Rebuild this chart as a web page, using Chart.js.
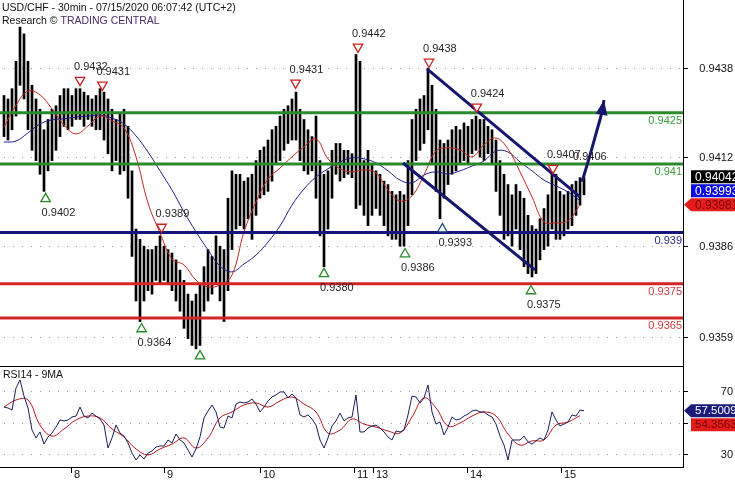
<!DOCTYPE html>
<html>
<head>
<meta charset="utf-8">
<script src="https://cdn.jsdelivr.net/npm/chart.js@4.4.0/dist/chart.umd.min.js"></script>
<style>
  html, body { margin: 0; padding: 0; background: #fff; }
  #wrap { position: relative; width: 735px; height: 480px; overflow: hidden; background: #fff; }
  #main { position: absolute; left: 0; top: 0; }
  #rsi { position: absolute; left: 0; top: 367px; }
</style>
</head>
<body>
<div id="wrap">
  <canvas id="main" width="735" height="367"></canvas>
  <canvas id="rsi" width="735" height="113"></canvas>
</div>
<script>
// USD/CHF 30min chart with RSI panel
// x axis unit = one bar slot
const barSlots = Array.from({ length: 146 }, (_, k) => k + 1);
const maSlots = Array.from({ length: 49 }, (_, k) => 1 + k * 3);

const barHigh = [
  0.9430, 0.9429, 0.9432, 0.9440, 0.9450, 0.9448, 0.9440, 0.9433, 0.9429, 0.9426,
  0.9420, 0.9423, 0.9426, 0.9427, 0.9430, 0.9432, 0.9432, 0.9430, 0.9432, 0.9432,
  0.9431, 0.9430, 0.9429, 0.9430, 0.9432, 0.9431, 0.9429, 0.9426, 0.9423, 0.9425,
  0.9426, 0.9421, 0.9408, 0.9391, 0.9388, 0.9386, 0.9385, 0.9385, 0.9386, 0.9389,
  0.9386, 0.9385, 0.9384, 0.9382, 0.9379, 0.9376, 0.9372, 0.9370, 0.9372, 0.9375,
  0.9380, 0.9385, 0.9383, 0.9389, 0.9386, 0.9385, 0.9400, 0.9408, 0.9407, 0.9407,
  0.9405, 0.9406, 0.9407, 0.9411, 0.9414, 0.9415, 0.9417, 0.9420, 0.9421, 0.9424,
  0.9426, 0.9427, 0.9429, 0.9431, 0.9426, 0.9423, 0.9420, 0.9418, 0.9424, 0.9411,
  0.9407, 0.9408, 0.9414, 0.9416, 0.9416, 0.9414, 0.9414, 0.9413, 0.9442, 0.9440,
  0.9411, 0.9414, 0.9410, 0.9408, 0.9407, 0.9405, 0.9404, 0.9402, 0.9401, 0.9402,
  0.9401, 0.9411, 0.9423, 0.9426, 0.9429, 0.9430, 0.9438, 0.9433, 0.9426, 0.9417,
  0.9416, 0.9417, 0.9420, 0.9421, 0.9420, 0.9422, 0.9421, 0.9423, 0.9424, 0.9423,
  0.9423, 0.9421, 0.9420, 0.9417, 0.9411, 0.9407, 0.9404, 0.9401, 0.9404, 0.9402,
  0.9400, 0.9395, 0.9392, 0.9391, 0.9394, 0.9397, 0.9401, 0.9407, 0.9407, 0.9402,
  0.9401, 0.9402, 0.9404, 0.9405, 0.9406, 0.9406
];
const barLow = [
  0.9418, 0.9417, 0.9420, 0.9424, 0.9433, 0.9429, 0.9420, 0.9414, 0.9411, 0.9407,
  0.9402, 0.9408, 0.9411, 0.9414, 0.9418, 0.9421, 0.9420, 0.9421, 0.9423, 0.9423,
  0.9421, 0.9423, 0.9421, 0.9420, 0.9420, 0.9417, 0.9413, 0.9408, 0.9411, 0.9407,
  0.9408, 0.9400, 0.9383, 0.9370, 0.9364, 0.9370, 0.9373, 0.9372, 0.9376, 0.9375,
  0.9376, 0.9375, 0.9373, 0.9370, 0.9367, 0.9362, 0.9359, 0.9357, 0.9356, 0.9357,
  0.9367, 0.9370, 0.9372, 0.9375, 0.9370, 0.9364, 0.9373, 0.9385, 0.9391, 0.9392,
  0.9391, 0.9394, 0.9388, 0.9395, 0.9400, 0.9401, 0.9402, 0.9405, 0.9410, 0.9411,
  0.9414, 0.9416, 0.9417, 0.9417, 0.9411, 0.9408, 0.9407, 0.9408, 0.9400, 0.9389,
  0.9380, 0.9391, 0.9400, 0.9407, 0.9405, 0.9406, 0.9407, 0.9406, 0.9397, 0.9398,
  0.9395, 0.9392, 0.9395, 0.9397, 0.9395, 0.9392, 0.9389, 0.9388, 0.9388, 0.9386,
  0.9386, 0.9392, 0.9401, 0.9411, 0.9414, 0.9416, 0.9420, 0.9410, 0.9402, 0.9394,
  0.9400, 0.9404, 0.9407, 0.9408, 0.9410, 0.9411, 0.9410, 0.9413, 0.9414, 0.9412,
  0.9411, 0.9413, 0.9410, 0.9402, 0.9395, 0.9388, 0.9389, 0.9386, 0.9391, 0.9385,
  0.9380, 0.9378, 0.9377, 0.9378, 0.9382, 0.9385, 0.9386, 0.9391, 0.9388, 0.9388,
  0.9389, 0.9391, 0.9392, 0.9395, 0.9398, 0.9401
];

const maRed = [
  0.94208, 0.94272, 0.94313, 0.94302, 0.94261, 0.94214, 0.94188, 0.94211, 0.94240, 0.94226,
  0.94205, 0.94121, 0.93986, 0.93899, 0.93823, 0.93805, 0.93761, 0.93741, 0.93747, 0.93776,
  0.93902, 0.93989, 0.94056, 0.94088, 0.94121, 0.94150, 0.94173, 0.94115, 0.94086, 0.94077,
  0.94083, 0.94074, 0.94024, 0.93992, 0.94007, 0.94068, 0.94138, 0.94147, 0.94141, 0.94121,
  0.94156, 0.94176, 0.94144, 0.94077, 0.94004, 0.93931, 0.93928, 0.93934, 0.93981
];
const maBlue = [
  0.94164, 0.94167, 0.94191, 0.94217, 0.94229, 0.94232, 0.94237, 0.94240, 0.94243, 0.94234,
  0.94217, 0.94182, 0.94135, 0.94080, 0.94024, 0.93960, 0.93902, 0.93849, 0.93802, 0.93785,
  0.93808, 0.93834, 0.93872, 0.93919, 0.93980, 0.94027, 0.94062, 0.94086, 0.94106, 0.94118,
  0.94115, 0.94103, 0.94080, 0.94053, 0.94045, 0.94068, 0.94077, 0.94071, 0.94080, 0.94094,
  0.94109, 0.94138, 0.94135, 0.94106, 0.94080, 0.94053, 0.94036, 0.94018, 0.93993
];

const rsiValues = [
  59.8, 59.2, 57.9, 71.9, 77.0, 66.8, 59.2, 45.2, 40.2, 44.0,
  36.3, 40.8, 43.3, 47.1, 51.6, 51.0, 51.6, 53.5, 54.1, 59.8,
  54.1, 52.9, 56.0, 54.1, 52.2, 48.4, 33.8, 40.2, 48.4, 43.3,
  41.4, 37.0, 30.6, 26.2, 29.4, 26.8, 30.6, 31.9, 34.4, 35.1,
  35.1, 38.9, 37.0, 42.7, 38.9, 37.0, 32.5, 28.1, 33.2, 40.8,
  52.9, 57.3, 61.1, 56.7, 47.1, 46.5, 54.1, 52.9, 61.7, 63.0,
  62.4, 63.0, 64.9, 61.7, 56.7, 59.8, 63.7, 66.2, 67.5, 69.4,
  69.4, 65.6, 68.1, 65.6, 54.8, 53.5, 54.8, 52.2, 48.4, 38.9,
  33.8, 40.2, 47.8, 51.0, 56.0, 51.0, 52.9, 53.5, 67.5, 44.0,
  44.0, 46.5, 47.8, 48.4, 46.5, 44.0, 40.8, 38.9, 44.6, 44.0,
  45.2, 54.8, 66.8, 66.2, 62.4, 65.6, 73.8, 56.7, 49.0, 50.3,
  42.1, 47.1, 53.5, 51.6, 52.2, 54.1, 55.4, 57.3, 57.9, 56.7,
  56.7, 54.8, 53.5, 49.0, 41.4, 35.7, 26.2, 38.9, 38.9, 38.9,
  41.4, 37.6, 36.3, 38.3, 40.2, 38.9, 45.2, 56.7, 51.6, 47.8,
  49.0, 50.3, 54.8, 54.1, 57.9, 57.5
];
const rsiMa = [
  59.8, 64.3, 64.3, 48.4, 41.4, 45.9, 51.6, 54.1, 52.9, 45.9,
  40.8, 33.2, 29.4, 33.2, 36.3, 40.2, 33.8, 40.2, 52.9, 56.7,
  61.1, 62.4, 59.8, 63.7, 66.2, 61.7, 56.7, 43.3, 45.2, 52.2,
  49.0, 47.1, 44.6, 43.3, 53.5, 65.6, 59.2, 47.8, 49.7, 54.1,
  56.7, 54.1, 42.7, 35.7, 38.3, 38.9, 48.4, 50.3, 54.4
];

// axes
const priceTicks = [0.9438, 0.9412, 0.9386, 0.93594];
const rsiTicks = [70, 50, 30];
const dayTickSlots = [17.75, 41, 65, 88.5, 93.25, 116.75, 140.25];
const dayLabels = ['8', '9', '10', '11', '13', '14', '15'];

// support / resistance levels
const levelValues = [0.9425, 0.941, 0.939, 0.9375, 0.9365];
const levelLabels = ['0.9425', '0.941', '0.939', '0.9375', '0.9365'];
const levelColors = ['#2b8a2b', '#2b8a2b', '#16167a', '#d42424', '#d42424'];
const levelTextColors = ['#3c9a3c', '#3c9a3c', '#2a2a8a', '#d43a3a', '#d43a3a'];

// channel and projection arrow
const channelUpperSlot = [106.75, 145];
const channelUpperPrice = [0.94378, 0.94004];
const channelLowerSlot = [100.75, 133.75];
const channelLowerPrice = [0.94103, 0.93791];
const arrowSlot = [145.5, 147.5, 149.25, 150.5, 151];
const arrowPrice = [0.94048, 0.94126, 0.94199, 0.94252, 0.94287];

// swing markers
const downSlot = [20, 25.6, 40.4, 73.9, 89.5, 107.25, 119.2, 138.25];
const downPrice = [0.94345, 0.94331, 0.93916, 0.94337, 0.94442, 0.94398, 0.94267, 0.94088];
const downText = ['0.9432', '0.9431', '0.9389', '0.9431', '0.9442', '0.9438', '0.9424', '0.9407'];
const upSlot = [11.4, 35.4, 50, 81, 101.25, 110.6, 132.75];
const upPrice = [0.93998, 0.93618, 0.93539, 0.93779, 0.93837, 0.93910, 0.93729];
const upText = ['0.9402', '0.9364', '', '0.9380', '0.9386', '0.9393', '0.9375'];
const upColors = ['#2a8a2a', '#2a8a2a', '#2a8a2a', '#2a8a2a', '#2a8a2a', '#1a3f7a', '#2a8a2a'];
const noteSlot = [143.25];
const notePrice = [0.94121];
const noteText = ['0.9406'];

// last value tags
const priceTagValues = [0.94042, 0.93993, 0.93981];
const rsiTagValues = [57.5009, 54.3563];

const FONT = '"Liberation Sans", Arial, sans-serif';
const X_MIN = 0, X_MAX = 170.75;

function pts(xs, ys) {
    return xs.map((s, k) => ({ x: s, y: ys[k] }));
}

function gridPlugin(ticks) {
    return {
        id: 'dotGrid',
        beforeDatasetsDraw(chart) {
            const { ctx, chartArea, scales } = chart;
            ctx.save();
            ctx.strokeStyle = '#9a9a9a';
            ctx.lineWidth = 1;
            ctx.setLineDash([1, 8]);
            ticks.forEach(v => {
                const py = Math.round(scales.y.getPixelForValue(v)) + 0.5;
                ctx.beginPath();
                ctx.moveTo(chartArea.left + 4, py);
                ctx.lineTo(chartArea.right, py);
                ctx.stroke();
            });
            ctx.restore();
        }
    };
}

function drawTag(ctx, y, text, bg, fg, arrow, size) {
    const h = 13, x0 = 691;
    ctx.fillStyle = bg;
    ctx.beginPath();
    if (arrow) {
        ctx.moveTo(684, y);
        ctx.lineTo(x0, y - h / 2);
        ctx.lineTo(735, y - h / 2);
        ctx.lineTo(735, y + h / 2);
        ctx.lineTo(x0, y + h / 2);
        ctx.closePath();
    } else {
        ctx.rect(x0, y - h / 2, 735 - x0, h);
    }
    ctx.fill();
    ctx.fillStyle = fg;
    ctx.font = size + 'px ' + FONT;
    ctx.textAlign = 'left';
    ctx.textBaseline = 'middle';
    ctx.fillText(text, 695, y + 0.5);
}

function rightAxis(ctx, chart, ticks, fmt) {
    const { chartArea, scales } = chart;
    ctx.strokeStyle = '#000';
    ctx.lineWidth = 1;
    ctx.beginPath();
    ctx.moveTo(683.5, 0);
    ctx.lineTo(683.5, chartArea.bottom + 1);
    ctx.stroke();
    ctx.font = '11px ' + FONT;
    ctx.fillStyle = '#111';
    ctx.textAlign = 'right';
    ctx.textBaseline = 'middle';
    ticks.forEach(v => {
        const py = Math.round(scales.y.getPixelForValue(v)) + 0.5;
        ctx.beginPath();
        ctx.moveTo(683, py);
        ctx.lineTo(688, py);
        ctx.stroke();
        ctx.fillText(fmt(v), 733, py);
    });
}

const mainOverlay = {
    id: 'mainOverlay',
    afterDraw(chart) {
        const { ctx, chartArea, scales: { x, y } } = chart;
        ctx.save();

        // bottom border of price panel
        ctx.strokeStyle = '#000';
        ctx.lineWidth = 1;
        ctx.beginPath();
        ctx.moveTo(0, chartArea.bottom + 0.5);
        ctx.lineTo(684, chartArea.bottom + 0.5);
        ctx.stroke();
        rightAxis(ctx, chart, priceTicks, v => v.toFixed(4));

        // arrow head
        const n = arrowSlot.length;
        const tx = x.getPixelForValue(arrowSlot[n - 1]), ty = y.getPixelForValue(arrowPrice[n - 1]);
        const bx = x.getPixelForValue(arrowSlot[n - 2]), by = y.getPixelForValue(arrowPrice[n - 2]);
        let dx = tx - bx, dy = ty - by;
        const len = Math.hypot(dx, dy);
        dx /= len; dy /= len;
        const cx = tx - dx * 15, cy = ty - dy * 15;
        ctx.fillStyle = '#16166e';
        ctx.beginPath();
        ctx.moveTo(tx, ty);
        ctx.lineTo(cx - dy * 6, cy + dx * 6);
        ctx.lineTo(cx + dy * 6, cy - dx * 6);
        ctx.closePath();
        ctx.fill();

        // level labels
        ctx.font = '11px ' + FONT;
        ctx.textAlign = 'right';
        ctx.textBaseline = 'middle';
        levelValues.forEach((v, k) => {
            ctx.fillStyle = levelTextColors[k];
            ctx.fillText(levelLabels[k], 682, y.getPixelForValue(v) + 8);
        });

        // swing labels
        ctx.fillStyle = '#262626';
        ctx.textAlign = 'left';
        downSlot.forEach((s, k) => {
            ctx.fillText(downText[k], x.getPixelForValue(s) - 6, y.getPixelForValue(downPrice[k]) - 13);
        });
        upSlot.forEach((s, k) => {
            if (upText[k]) ctx.fillText(upText[k], x.getPixelForValue(s) - 4, y.getPixelForValue(upPrice[k]) + 14);
        });
        noteSlot.forEach((s, k) => {
            ctx.fillText(noteText[k], x.getPixelForValue(s), y.getPixelForValue(notePrice[k]));
        });

        // title
        ctx.font = '10.5px ' + FONT;
        ctx.fillStyle = '#111';
        ctx.fillText('USD/CHF - 30min - 07/15/2020 06:07:42 (UTC+2)', 2, 8);
        const pre = 'Research \u00A9 ';
        ctx.fillText(pre, 2, 21);
        ctx.fillStyle = '#4a2c66';
        ctx.fillText('TRADING CENTRAL', 2 + ctx.measureText(pre).width, 21);

        // last value tags, stacked upward from the lowest
        const tagStyle = [['#000', '#fff'], ['#0c0ce0', '#fff'], ['#e41c1c', '#7a0000']];
        const order = priceTagValues.map((v, k) => k).sort((a, b) => priceTagValues[a] - priceTagValues[b]);
        let prev = null;
        order.forEach(k => {
            const vy = y.getPixelForValue(priceTagValues[k]);
            let ty2 = vy;
            if (prev !== null && ty2 > prev - 14) ty2 = prev - 14;
            drawTag(ctx, ty2, priceTagValues[k].toFixed(5), tagStyle[k][0], tagStyle[k][1], ty2 === vy, 12);
            prev = ty2;
        });
        ctx.restore();
    }
};

const rsiOverlay = {
    id: 'rsiOverlay',
    afterDraw(chart) {
        const { ctx, chartArea, scales: { x, y } } = chart;
        ctx.save();
        ctx.strokeStyle = '#000';
        ctx.lineWidth = 1;
        ctx.beginPath();
        ctx.moveTo(0, chartArea.bottom + 0.5);
        ctx.lineTo(684, chartArea.bottom + 0.5);
        ctx.stroke();
        rightAxis(ctx, chart, rsiTicks, v => String(v));

        // day ticks
        ctx.font = '11px ' + FONT;
        ctx.fillStyle = '#111';
        ctx.textAlign = 'left';
        ctx.textBaseline = 'middle';
        dayTickSlots.forEach((s, k) => {
            const px = Math.round(x.getPixelForValue(s)) + 0.5;
            ctx.beginPath();
            ctx.moveTo(px, chartArea.bottom);
            ctx.lineTo(px, chartArea.bottom + 6);
            ctx.stroke();
            ctx.fillText(dayLabels[k], px + 2.5, chartArea.bottom + 8);
        });

        ctx.font = '10.5px ' + FONT;
        ctx.fillText('RSI14 - 9MA', 3, 8);

        // tags, stacked downward from the highest
        const tagStyle = [['#1a1a78', '#fff'], ['#e41c1c', '#7a0000']];
        let prev = null;
        rsiTagValues.forEach((v, k) => {
            const vy = y.getPixelForValue(v);
            let ty = vy;
            if (prev !== null && ty < prev + 14) ty = prev + 14;
            drawTag(ctx, ty, v.toFixed(4), tagStyle[k][0], tagStyle[k][1], ty === vy, 11.5);
            prev = ty;
        });
        ctx.restore();
    }
};

const baseOptions = (padBottom, yMin, yMax) => ({
    responsive: false,
    animation: false,
    events: [],
    devicePixelRatio: 1,
    layout: { autoPadding: false, padding: { left: 0, right: 52, top: 0, bottom: padBottom } },
    scales: {
        x: { type: 'linear', min: X_MIN, max: X_MAX, display: false, offset: false },
        y: { type: 'linear', min: yMin, max: yMax, display: false }
    },
    plugins: { legend: { display: false }, tooltip: { enabled: false } }
});

const levelDatasets = levelValues.map((v, k) => ({
    type: 'line',
    data: [{ x: X_MIN, y: v }, { x: X_MAX, y: v }],
    borderColor: levelColors[k],
    borderWidth: 3,
    pointRadius: 0,
    order: 3
}));

new Chart(document.getElementById('main'), {
    type: 'bar',
    data: {
        datasets: [
            {
                type: 'line',
                data: pts(downSlot, downPrice),
                showLine: false,
                pointStyle: 'triangle',
                pointRotation: 180,
                pointRadius: 5.5,
                pointBorderWidth: 1.3,
                pointBorderColor: '#cc2222',
                pointBackgroundColor: '#fff',
                order: 0
            },
            {
                type: 'line',
                data: pts(upSlot, upPrice),
                showLine: false,
                pointStyle: 'triangle',
                pointRadius: 5.5,
                pointBorderWidth: 1.3,
                pointBorderColor: upColors,
                pointBackgroundColor: '#fff',
                order: 0
            },
            {
                type: 'line',
                data: pts(arrowSlot, arrowPrice),
                borderColor: '#16166e',
                borderWidth: 3,
                pointRadius: 0,
                tension: 0.4,
                order: 1
            },
            {
                type: 'line',
                data: pts(channelUpperSlot, channelUpperPrice),
                borderColor: '#16166e',
                borderWidth: 3,
                pointRadius: 0,
                order: 2
            },
            {
                type: 'line',
                data: pts(channelLowerSlot, channelLowerPrice),
                borderColor: '#16166e',
                borderWidth: 3,
                pointRadius: 0,
                order: 2
            },
            ...levelDatasets,
            {
                type: 'line',
                data: pts(maSlots, maRed),
                borderColor: '#c0281e',
                borderWidth: 1,
                pointRadius: 0,
                tension: 0.4,
                order: 4
            },
            {
                type: 'line',
                data: pts(maSlots, maBlue),
                borderColor: '#20208c',
                borderWidth: 1,
                pointRadius: 0,
                tension: 0.4,
                order: 4
            },
            {
                type: 'bar',
                data: barSlots.map((s, k) => ({ x: s, y: [barLow[k], barHigh[k]] })),
                backgroundColor: '#000',
                borderWidth: 0,
                barThickness: 2,
                order: 5
            }
        ]
    },
    options: baseOptions(1, 0.9351, 0.94579),
    plugins: [gridPlugin(priceTicks), mainOverlay]
});

new Chart(document.getElementById('rsi'), {
    type: 'line',
    data: {
        datasets: [
            {
                data: pts(barSlots, rsiValues),
                borderColor: '#1c1c5a',
                borderWidth: 1,
                pointRadius: 0,
                order: 1
            },
            {
                data: pts(maSlots, rsiMa),
                borderColor: '#b8141e',
                borderWidth: 1,
                pointRadius: 0,
                tension: 0.4,
                order: 2
            }
        ]
    },
    options: baseOptions(13, 21.75, 85.24),
    plugins: [gridPlugin(rsiTicks), rsiOverlay]
});
</script>
</body>
</html>
